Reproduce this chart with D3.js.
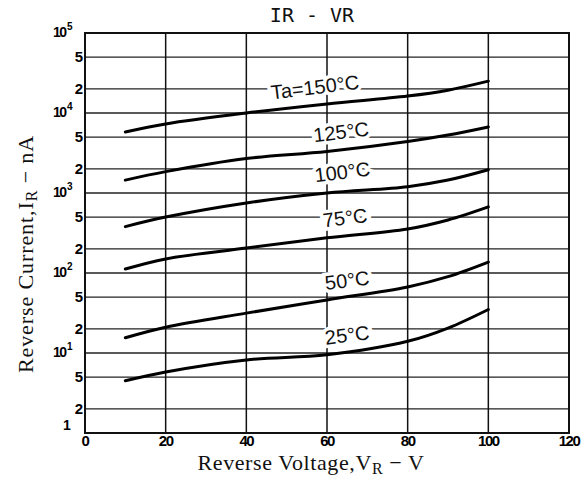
<!DOCTYPE html>
<html>
<head>
<meta charset="utf-8">
<script src="https://cdn.jsdelivr.net/npm/d3@7"></script>
<style>
  body { margin: 0; background: #fff; }
  svg { display: block; }
</style>
</head>
<body>
<script>
  // reverse voltage (V) where each curve was read
  const voltages = [10, 20, 40, 60, 80, 90, 100];

  // reverse current (nA) for each ambient temperature
  const ir150 = [5800, 7300, 10000, 13000, 16300, 19300, 25000];
  const ir125 = [1450, 1850, 2700, 3300, 4400, 5300, 6700];
  const ir100 = [380, 500, 750, 1000, 1200, 1450, 1950];
  const ir75 = [112, 150, 205, 275, 355, 460, 670];
  const ir50 = [15.5, 21, 31.5, 46, 67, 90, 137];
  const ir25 = [4.5, 5.8, 8.2, 9.5, 14, 20.5, 35];

  const series = [
    { name: 'Ta=150°C', values: ir150 },
    { name: '125°C', values: ir125 },
    { name: '100°C', values: ir100 },
    { name: '75°C', values: ir75 },
    { name: '50°C', values: ir50 },
    { name: '25°C', values: ir25 }
  ];

  // where the temperature labels sit (V, nA)
  const labelV = [57, 63.5, 63.8, 64.5, 65, 65];
  const labelI = [21000, 5800, 1830, 490, 81, 16.8];

  const xTicks = [0, 20, 40, 60, 80, 100, 120];
  const yDecades = [1, 10, 100, 1000, 10000, 100000];
  const yMinor = [2, 5, 20, 50, 200, 500, 2000, 5000, 20000, 50000];

  const width = 585;
  const height = 483;
  const margin = { top: 33, right: 16, bottom: 50, left: 85 };

  const svg = d3.select('body')
    .append('svg')
    .attr('width', width)
    .attr('height', height);

  const x = d3.scaleLinear()
    .domain([0, 120])
    .range([margin.left, width - margin.right]);

  const y = d3.scaleLog()
    .domain([1, 1e5])
    .range([height - margin.bottom, margin.top]);

  // horizontal grid
  svg.append('g')
    .selectAll('line')
    .data(yDecades.concat(yMinor))
    .join('line')
    .attr('x1', x(0))
    .attr('x2', x(120))
    .attr('y1', d => y(d))
    .attr('y2', d => y(d))
    .attr('stroke', '#222')
    .attr('stroke-width', 1.3);

  // vertical grid
  svg.append('g')
    .selectAll('line')
    .data(xTicks)
    .join('line')
    .attr('x1', d => x(d))
    .attr('x2', d => x(d))
    .attr('y1', y(1))
    .attr('y2', y(1e5))
    .attr('stroke', '#111')
    .attr('stroke-width', 1.5);

  // frame
  svg.append('rect')
    .attr('x', x(0))
    .attr('y', y(1e5))
    .attr('width', x(120) - x(0))
    .attr('height', y(1) - y(1e5))
    .attr('fill', 'none')
    .attr('stroke', '#111')
    .attr('stroke-width', 2);

  // curves
  const line = d3.line()
    .x((d, i) => x(voltages[i]))
    .y(d => y(d))
    .curve(d3.curveCatmullRom.alpha(0.5));

  svg.append('g')
    .selectAll('path')
    .data(series)
    .join('path')
    .attr('d', d => line(d.values))
    .attr('fill', 'none')
    .attr('stroke', '#000')
    .attr('stroke-width', 3)
    .attr('stroke-linecap', 'round');

  // temperature labels, with a white halo that breaks the grid
  svg.append('g')
    .selectAll('text')
    .data(series)
    .join('text')
    .attr('transform', (d, i) => `translate(${x(labelV[i])},${y(labelI[i])}) rotate(-7)`)
    .attr('text-anchor', 'middle')
    .attr('dy', '0.35em')
    .attr('font-family', 'Liberation Sans, Arial, sans-serif')
    .attr('font-size', 20)
    .attr('fill', '#111')
    .attr('stroke', '#fff')
    .attr('stroke-width', 7)
    .attr('paint-order', 'stroke')
    .text(d => d.name);

  // x tick labels
  svg.append('g')
    .selectAll('text')
    .data(xTicks)
    .join('text')
    .attr('x', d => x(d))
    .attr('y', y(1) + 13)
    .attr('text-anchor', 'middle')
    .attr('font-family', 'Liberation Sans, Arial, sans-serif')
    .attr('font-weight', 'bold')
    .attr('font-size', 15)
    .attr('letter-spacing', -1.5)
    .text(d => d);

  // y tick labels: minor digits
  svg.append('g')
    .selectAll('text')
    .data(yMinor)
    .join('text')
    .attr('x', x(0) - 2)
    .attr('y', d => y(d))
    .attr('dy', '0.35em')
    .attr('text-anchor', 'end')
    .attr('font-family', 'Liberation Sans, Arial, sans-serif')
    .attr('font-weight', 'bold')
    .attr('font-size', 15)
    .text(d => String(d)[0]);

  // y tick labels: decades with exponent
  const dec = svg.append('g')
    .selectAll('text')
    .data(yDecades)
    .join('text')
    .attr('x', d => d === 1 ? x(0) - 22 : x(0) - 32)
    .attr('y', d => y(d) + (d === 1 ? -3 : 4))
    .attr('text-anchor', 'start')
    .attr('font-family', 'Liberation Sans, Arial, sans-serif')
    .attr('font-weight', 'bold')
    .attr('font-size', 14)
    .attr('letter-spacing', -1.5);

  dec.append('tspan').text(d => d === 1 ? '1' : '10');
  dec.filter(d => d !== 1)
    .append('tspan')
    .attr('dx', 1.5)
    .attr('dy', -7)
    .attr('font-size', 10)
    .attr('letter-spacing', 0)
    .text(d => Math.round(Math.log10(d)));

  // title
  svg.append('text')
    .attr('x', 312)
    .attr('y', 22)
    .attr('text-anchor', 'middle')
    .attr('font-family', 'DejaVu Sans Mono, monospace')
    .attr('font-size', 20)
    .attr('fill', '#111')
    .text('IR - VR');

  // x axis title
  const xt = svg.append('text')
    .attr('x', 311)
    .attr('y', 470)
    .attr('text-anchor', 'middle')
    .attr('font-family', 'Liberation Serif, Times New Roman, serif')
    .attr('font-size', 22)
    .attr('letter-spacing', 0.6)
    .attr('fill', '#111');
  xt.append('tspan').text('Reverse Voltage,V');
  xt.append('tspan').attr('dy', 4).attr('font-size', 16).text('R');
  xt.append('tspan').attr('dy', -4).text(' − V');

  // y axis title
  const yt = svg.append('text')
    .attr('transform', 'translate(33,254) rotate(-90)')
    .attr('text-anchor', 'middle')
    .attr('font-family', 'Liberation Serif, Times New Roman, serif')
    .attr('font-size', 22)
    .attr('letter-spacing', 0.9)
    .attr('fill', '#111');
  yt.append('tspan').text('Reverse Current,I');
  yt.append('tspan').attr('dy', 4).attr('font-size', 16).text('R');
  yt.append('tspan').attr('dy', -4).text(' − nA');
</script>
</body>
</html>
